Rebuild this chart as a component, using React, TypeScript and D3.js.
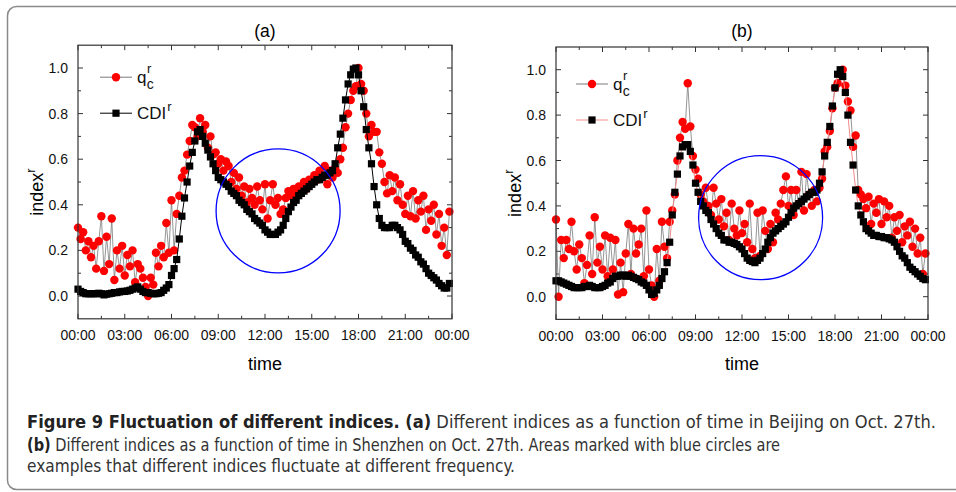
import React from 'react'
import * as d3 from 'd3'

// one sample every 10 minutes over the day
const N = 144
const hours = d3.range(N).map(i => (i * 10) / 60)

const xTickHours = [0, 3, 6, 9, 12, 15, 18, 21, 24]
const xTickLabels = ['00:00', '03:00', '06:00', '09:00', '12:00', '15:00', '18:00', '21:00', '00:00']
const yTickValues = [0, 0.2, 0.4, 0.6, 0.8, 1.0]

// (a) Beijing
const qA = [
  0.30, 0.25, 0.28, 0.20, 0.24, 0.17,
  0.22, 0.12, 0.24, 0.35, 0.11, 0.26,
  0.14, 0.34, 0.07, 0.20, 0.12, 0.22,
  0.09, 0.18, 0.13, 0.20, 0.06, 0.14,
  0.12, 0.08, 0.04, 0.00, 0.08, 0.05,
  0.19, 0.13, 0.22, 0.17, 0.32, 0.19,
  0.42, 0.20, 0.36, 0.44, 0.52, 0.55,
  0.62, 0.68, 0.75, 0.74, 0.70, 0.78,
  0.72, 0.75, 0.65, 0.70, 0.62, 0.63,
  0.58, 0.60, 0.55, 0.59, 0.57, 0.50,
  0.54, 0.47, 0.52, 0.44, 0.48, 0.41,
  0.47, 0.43, 0.40, 0.48, 0.42, 0.38,
  0.49, 0.34, 0.42, 0.49, 0.40, 0.43,
  0.36, 0.38, 0.43, 0.46, 0.44, 0.47,
  0.45, 0.48, 0.46, 0.50, 0.47, 0.51,
  0.50, 0.53, 0.51, 0.55, 0.52, 0.57,
  0.49, 0.55, 0.52, 0.56, 0.54, 0.60,
  0.65, 0.74, 0.80, 0.86, 0.90, 0.92,
  1.00, 0.93, 0.90, 0.80, 0.70, 0.75,
  0.72, 0.72, 0.63, 0.58, 0.50, 0.45,
  0.53, 0.46, 0.52, 0.42, 0.49, 0.40,
  0.36, 0.44, 0.35, 0.46, 0.34, 0.42,
  0.37, 0.44, 0.29, 0.38, 0.33, 0.40,
  0.27, 0.36, 0.22, 0.30, 0.18, 0.37,
]
const cdiA = [
  0.03, 0.02, 0.015, 0.01, 0.01, 0.01,
  0.01, 0.01, 0.012, 0.01, 0.005, 0.008,
  0.01, 0.012, 0.015, 0.015, 0.018, 0.02,
  0.02, 0.022, 0.025, 0.03, 0.035, 0.04,
  0.03, 0.02, 0.015, 0.015, 0.012, 0.01,
  0.01, 0.012, 0.015, 0.025, 0.035, 0.05,
  0.09, 0.12, 0.16, 0.25, 0.35, 0.43,
  0.50, 0.57, 0.63, 0.68, 0.72, 0.73,
  0.70, 0.67, 0.64, 0.61, 0.58, 0.55,
  0.52, 0.51, 0.50, 0.49, 0.48, 0.46,
  0.45, 0.44, 0.42, 0.41, 0.40, 0.38,
  0.37, 0.36, 0.34, 0.33, 0.32, 0.31,
  0.29, 0.28, 0.27, 0.27, 0.27, 0.28,
  0.29, 0.31, 0.34, 0.37, 0.39, 0.41,
  0.42, 0.44, 0.45, 0.46, 0.47, 0.48,
  0.49, 0.50, 0.51, 0.51, 0.52, 0.53,
  0.53, 0.54, 0.55, 0.58, 0.65, 0.71,
  0.78, 0.86, 0.93, 0.97, 0.995, 1.00,
  0.97, 0.90, 0.83, 0.73, 0.65, 0.58,
  0.48, 0.40, 0.34, 0.31, 0.30, 0.30,
  0.30, 0.31, 0.31, 0.30, 0.29, 0.27,
  0.24, 0.23, 0.21, 0.20, 0.18, 0.17,
  0.15, 0.14, 0.12, 0.10, 0.09, 0.08,
  0.07, 0.055, 0.045, 0.035, 0.035, 0.055,
]

// (b) Shenzhen
const qB = [
  0.34, 0.00, 0.25, 0.17, 0.25, 0.21,
  0.33, 0.20, 0.12, 0.23, 0.17, 0.06,
  0.14, 0.27, 0.10, 0.35, 0.15, 0.22,
  0.12, 0.27, 0.09, 0.26, 0.12, 0.25,
  0.01, 0.15, 0.02, 0.19, 0.32, 0.10,
  0.30, 0.19, 0.23, 0.30, 0.09, 0.38,
  0.12, 0.05, 0.00, 0.21, 0.07, 0.33,
  0.22, 0.17, 0.33, 0.38, 0.45, 0.60,
  0.70, 0.77, 0.74, 0.94, 0.75, 0.62,
  0.56, 0.52, 0.45, 0.42, 0.48, 0.40,
  0.36, 0.48, 0.41, 0.34, 0.43, 0.31,
  0.37, 0.25, 0.41, 0.30, 0.27, 0.38,
  0.28, 0.32, 0.24, 0.41, 0.21, 0.17,
  0.37, 0.18, 0.38, 0.29, 0.21, 0.32,
  0.24, 0.37, 0.34, 0.41, 0.47, 0.53,
  0.40, 0.47, 0.36, 0.47, 0.41, 0.55,
  0.38, 0.54, 0.45, 0.40, 0.47, 0.42,
  0.48, 0.52, 0.64, 0.66, 0.73, 0.83,
  0.92, 0.94, 0.98, 1.00, 0.93, 0.86,
  0.82, 0.66, 0.71, 0.47, 0.45, 0.43,
  0.39, 0.44, 0.32, 0.41, 0.37, 0.43,
  0.32, 0.42, 0.35, 0.40, 0.26, 0.35,
  0.29, 0.36, 0.24, 0.31, 0.27, 0.33,
  0.22, 0.30, 0.19, 0.26, 0.10, 0.19,
]
const cdiB = [
  0.07, 0.07, 0.065, 0.06, 0.055, 0.05,
  0.045, 0.04, 0.04, 0.04, 0.04, 0.045,
  0.045, 0.05, 0.045, 0.04, 0.04, 0.04,
  0.045, 0.05, 0.06, 0.065, 0.08, 0.09,
  0.09, 0.095, 0.095, 0.09, 0.095, 0.09,
  0.085, 0.08, 0.075, 0.065, 0.06, 0.05,
  0.03, 0.01, 0.015, 0.03, 0.05, 0.08,
  0.11, 0.15, 0.24, 0.36, 0.46, 0.54,
  0.62, 0.66, 0.67, 0.67, 0.64, 0.58,
  0.50, 0.46, 0.42, 0.40, 0.38, 0.37,
  0.34, 0.32, 0.30, 0.28, 0.27, 0.25,
  0.25, 0.24, 0.24, 0.235, 0.23, 0.22,
  0.21, 0.19, 0.17, 0.16, 0.155, 0.15,
  0.16, 0.17, 0.19, 0.21, 0.24, 0.26,
  0.28, 0.29, 0.30, 0.31, 0.32, 0.33,
  0.35, 0.37, 0.39, 0.40, 0.41, 0.42,
  0.43, 0.44, 0.45, 0.46, 0.46, 0.47,
  0.50, 0.55, 0.62, 0.68, 0.75, 0.84,
  0.92, 0.98, 1.00, 0.97, 0.90, 0.80,
  0.68, 0.58, 0.47, 0.40, 0.36, 0.33,
  0.30, 0.29, 0.28, 0.27, 0.27, 0.265,
  0.265, 0.26, 0.26, 0.255, 0.25, 0.24,
  0.22, 0.20, 0.18, 0.17, 0.15, 0.13,
  0.12, 0.11, 0.10, 0.09, 0.08, 0.075,
]

const FONT = '"Liberation Sans", Arial, sans-serif'
const CAPTION_FONT = '"DejaVu Sans Condensed", "Open Sans", sans-serif'
const R = 4.2
const SQ = 7.2

type PanelProps = {
  title: string
  left: number
  right: number
  top: number
  bottom: number
  q: number[]
  cdi: number[]
  cdiLine: string
  circle: { h: number; v: number }
  legendDx: number
  legendDy: number
  labelX: number
}

const Panel = (p: PanelProps) => {
  const x = d3.scaleLinear().domain([0, 24]).range([p.left, p.right])
  const y = d3.scaleLinear().domain([-0.1, 1.1]).range([p.bottom, p.top])
  const line = d3.line<number>().x((d, i) => x(hours[i])).y(d => y(d))
  const cx = (p.left + p.right) / 2
  const minorX = d3.range(1.5, 24, 3)
  const allY = d3.range(0, 11).map(i => i / 10)
  const lg = p.left + p.legendDx
  const r1 = p.top + p.legendDy
  const r2 = r1 + 36

  return (
    <g>
      <text x={cx} y={37} textAnchor="middle" fontFamily={FONT} fontSize={17.5}>{p.title}</text>

      {/* ticks, inward on all sides */}
      <g stroke="#333" strokeWidth={1}>
        {xTickHours.map(h => (
          <g key={'x' + h}>
            <line x1={x(h)} x2={x(h)} y1={p.bottom} y2={p.bottom - 5} />
            <line x1={x(h)} x2={x(h)} y1={p.top} y2={p.top + 5} />
          </g>
        ))}
        {minorX.map(h => (
          <g key={'mx' + h}>
            <line x1={x(h)} x2={x(h)} y1={p.bottom} y2={p.bottom - 3} />
            <line x1={x(h)} x2={x(h)} y1={p.top} y2={p.top + 3} />
          </g>
        ))}
        {allY.map(v => {
          const len = Math.round(v * 10) % 2 === 0 ? 5 : 3
          return (
            <g key={'y' + v}>
              <line x1={p.left} x2={p.left + len} y1={y(v)} y2={y(v)} />
              <line x1={p.right} x2={p.right - len} y1={y(v)} y2={y(v)} />
            </g>
          )
        })}
      </g>

      <g fontFamily={FONT} fontSize={14} fill="#111">
        {xTickHours.map((h, i) => (
          <text key={'xl' + i} x={x(h)} y={p.bottom + 21.5} textAnchor="middle">{xTickLabels[i]}</text>
        ))}
        {yTickValues.map(v => (
          <text key={'yl' + v} x={p.left - 10} y={y(v) + 5} textAnchor="end">{d3.format('.1f')(v)}</text>
        ))}
      </g>

      <text x={cx} y={370} textAnchor="middle" fontFamily={FONT} fontSize={18}>time</text>
      <text transform={`translate(${p.labelX},${(p.top + p.bottom) / 2 + 10}) rotate(-90)`} textAnchor="middle"
        fontFamily={FONT} fontSize={18}>
        index<tspan fontSize={13} dy={-8}>r</tspan>
      </text>

      {/* q_c^r */}
      <path d={line(p.q) || ''} fill="none" stroke="#7a7a7a" strokeWidth={0.8} />
      {p.q.map((v, i) => (
        <circle key={'q' + i} cx={x(hours[i])} cy={y(v)} r={R} fill="#ff0000" />
      ))}

      {/* CDI^r */}
      <path d={line(p.cdi) || ''} fill="none" stroke={p.cdiLine} strokeWidth={1} />
      {p.cdi.map((v, i) => (
        <rect key={'c' + i} x={x(hours[i]) - SQ / 2} y={y(v) - SQ / 2} width={SQ} height={SQ} fill="#000" />
      ))}

      <circle cx={x(p.circle.h)} cy={y(p.circle.v)} r={62} fill="none" stroke="#0000ff" strokeWidth={1.3} />

      {/* legend */}
      <line x1={lg} x2={lg + 32} y1={r1} y2={r1} stroke="#7a7a7a" strokeWidth={1} />
      <circle cx={lg + 16} cy={r1} r={R} fill="#ff0000" />
      <text x={lg + 37} y={r1 + 6} fontFamily={FONT} fontSize={17} fill="#111">
        q<tspan fontSize={13} dy={-10} dx={0.5}>r</tspan><tspan fontSize={14} dy={16} dx={-4.5}>c</tspan>
      </text>
      <line x1={lg} x2={lg + 32} y1={r2} y2={r2} stroke={p.cdiLine} strokeWidth={1} />
      <rect x={lg + 16 - SQ / 2} y={r2 - SQ / 2} width={SQ} height={SQ} fill="#000" />
      <text x={lg + 37} y={r2 + 6} fontFamily={FONT} fontSize={17} fill="#111">
        CDI<tspan fontSize={13} dy={-8} dx={1}>r</tspan>
      </text>

      <rect x={p.left} y={p.top} width={p.right - p.left} height={p.bottom - p.top} fill="none" stroke="#333" strokeWidth={1.2} />
    </g>
  )
}

export default function App() {
  return (
    <svg width={956} height={492} style={{ position: 'absolute', left: 0, top: 0, background: '#fff' }}>
      <rect x={0} y={0} width={956} height={492} fill="#fff" />
      <rect x={7.5} y={6.5} width={970} height={483} rx={9} fill="none" stroke="#8a8a8a" strokeWidth={1.5} />

      <Panel title="(a)" left={78} right={452} top={45.2} bottom={318.8} q={qA} cdi={cdiA} cdiLine="#000"
        circle={{ h: 12.84, v: 0.373 }} legendDx={22} legendDy={32} labelX={43} />
      <Panel title="(b)" left={556} right={928} top={47} bottom={319.4} q={qB} cdi={cdiB} cdiLine="#f28a8a"
        circle={{ h: 13.2, v: 0.348 }} legendDx={20} legendDy={37} labelX={521} />

      <g fontFamily={CAPTION_FONT} fontSize={17} fill="#333" style={{ whiteSpace: 'pre' }}>
        <text x={27} y={428} textLength={909} lengthAdjust="spacingAndGlyphs">
          <tspan fontWeight="bold" fill="#222">Figure 9  Fluctuation of different indices. (a)</tspan>
          <tspan> Different indices as a function of time in Beijing on Oct. 27th.</tspan>
        </text>
        <text x={27} y={450.5} textLength={753} lengthAdjust="spacingAndGlyphs">
          <tspan fontWeight="bold" fill="#222">(b)</tspan>
          <tspan> Different indices as a function of time in Shenzhen on Oct. 27th. Areas marked with blue circles are</tspan>
        </text>
        <text x={27} y={472} textLength={488} lengthAdjust="spacingAndGlyphs">
          examples that different indices fluctuate at different frequency.
        </text>
      </g>
    </svg>
  )
}
